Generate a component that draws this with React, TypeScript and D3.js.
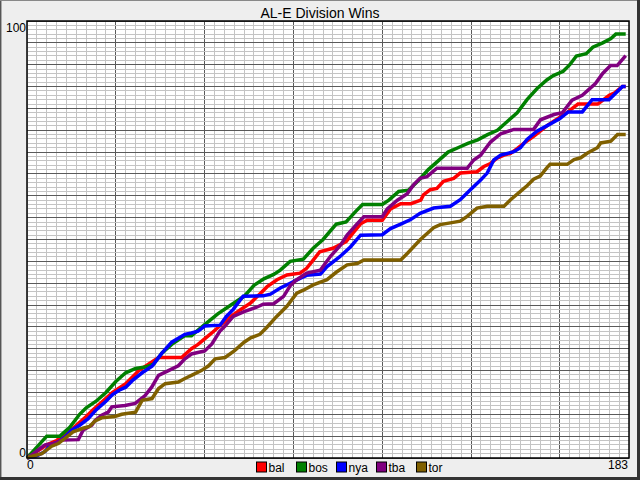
import * as d3 from "d3";

type Pt = [number, number];

// days since season start vs. cumulative wins
const bal: Pt[] = [[0,0],[3,1.5],[6,3],[9,4],[12,5.5],[15,7.5],[18,9.5],[20,11],[23,13],[26,15],[30,17],[34,20],[36,21],[40,23],[47,23],[50,25],[52,26],[56,28.5],[59,30.5],[62,32.4],[65,34],[68,35.5],[71,37.7],[73,39.2],[76,40.8],[79,41.9],[83,42.3],[85,43.4],[87,45.3],[89,47.2],[93,48],[97,49.5],[99,51.4],[101.4,53.6],[103.4,54.4],[108,54.4],[110.5,57],[113.6,58.2],[116.7,58.2],[119.7,59],[120.5,60.2],[122.6,61.4],[124.6,61.7],[126.6,63.3],[129.7,64],[131.7,65.2],[136.8,65.5],[138.9,66.7],[140.9,67.4],[142.9,68.6],[145,69.3],[147,69.7],[149,70.8],[151,72],[154,73.6],[156,74.8],[158,76],[160,77],[162,78],[164,79],[167.5,81],[173.5,81],[177,83],[178.5,83.5],[181,85],[182,85]];
const bos: Pt[] = [[0,0],[3,2.5],[6,5],[10,5],[13,7],[16,10],[18,11.5],[21,13],[24,15],[27,17.5],[30,19.5],[33,20.5],[36,20.8],[38.5,21.5],[41,24],[44,26],[48,28],[50,28],[54,30.5],[58,33],[62,35],[66,37],[69,39.5],[72,41],[75,42],[77,43],[80,45],[84,45.5],[87,48],[90,50],[94,53.5],[97,54],[100,56.5],[102,58],[108,58],[110,59],[113,61],[116,61.3],[119,63.5],[122,66],[125,68],[128,70],[131,71],[134,72],[137,72.8],[140,74],[143,75],[146,77],[149,79],[152,82],[155,84.5],[158,86.5],[160,87.5],[163,88.5],[165,90],[167,92],[170,92.5],[172,94],[175,95],[177.5,96],[179,97],[182,97]];
const nya: Pt[] = [[0,0],[3,0.5],[5.5,1.5],[7,3],[9.5,3.7],[11.6,4.8],[13.6,6.4],[16,7.5],[18.6,9],[21,11],[24,13],[26,14.5],[28,15.5],[30,16.2],[32,17.7],[35,19.5],[38,21],[41,24],[44,26.5],[48,28.3],[50,28.6],[52,29],[54,30.2],[58.7,30.4],[60.6,32.4],[62.7,34],[65.7,37],[71.8,37.1],[74,37.5],[77,38.9],[80,40],[83,41.1],[85,41.8],[89.2,42.1],[91.2,43.8],[95,46],[98.3,48.3],[101.4,51],[108,51.1],[110.5,52.5],[113.6,53.5],[116.5,54.5],[119.5,56],[123.6,57.2],[128.7,57.6],[131.7,59.1],[134.8,61.4],[137.9,63.6],[139.9,65.2],[141.9,68.2],[144,69.3],[148,70.1],[150,71],[152,72.9],[155,74.8],[158,76],[162,77.7],[164.5,79.2],[168.8,79.2],[171.8,82],[176.9,82],[179.4,83.8],[181,85],[182,85]];
const tba: Pt[] = [[0,0],[2,1],[4,2.2],[5.5,3],[8.5,3.4],[10.6,4.1],[15.6,4.2],[17.1,6.4],[19.7,7.5],[20.7,8.6],[22.7,9.8],[24.7,10.5],[25.8,11.7],[29.8,12],[32.9,12.5],[35.9,14.3],[37.9,16.2],[40,18.9],[43,20],[46,21.1],[48,22.7],[50,23.8],[54,24.5],[56.2,26.1],[58.6,29],[60.2,30.2],[62.7,32.4],[66,33.5],[69.8,34.5],[71.8,35.2],[75,35.3],[78,37],[80,39.4],[82,40.8],[85,42.3],[89.2,43],[92.2,46.1],[95.3,48.7],[97.3,51],[100.4,53.6],[102.4,55.2],[108,55.2],[109.5,57],[112.6,59],[115.6,60.5],[117.5,62.5],[119.5,64],[121.6,64.4],[124.6,66.3],[133.8,66.3],[135.8,68.2],[137.9,69.3],[140.9,72.3],[144,74.2],[148,75.2],[154,75.2],[156.1,77.4],[160.2,78.6],[162.7,79],[165.7,81.9],[168.8,83],[172.8,85.7],[175,88],[177.4,89.8],[179.4,89.8],[182,92.1]];
const tor: Pt[] = [[0,0],[1,0.3],[4.5,1],[7.5,2.7],[9.5,3.3],[11.5,4.5],[14,6],[17,6.8],[19,7.2],[20.7,8.5],[22.7,9.2],[26.7,9.5],[28.8,10],[33,10.5],[35,13.2],[38,13.6],[40,15.9],[42,17],[46,17.4],[48,18.2],[50,18.9],[53,20],[55.2,21.1],[57.2,22.7],[60.2,23],[63,24.5],[66,26.5],[68,27.5],[70.8,28.3],[72.8,29.8],[75.9,32.4],[79,34.7],[82,37.7],[84,38.4],[87,39.6],[91.2,40.8],[94,42.5],[97.3,44.2],[100.4,44.5],[102.4,45.3],[113.6,45.3],[115.6,46.8],[119.6,50],[123.6,52.7],[125.6,53.4],[128.7,53.8],[131.7,54.2],[133.8,55.3],[136.8,57.2],[139.9,57.6],[145,57.6],[147,59.1],[150,61],[152,62.3],[154,63.8],[156,64.5],[158,66.4],[159,67.2],[164.2,67.2],[166.3,68.3],[168.3,68.7],[170.4,69.8],[173.4,71],[174.4,72.1],[177.5,72.5],[179.5,74],[182,74]];

const teams = ["bal", "bos", "nya", "tba", "tor"];
const teamData = [bal, bos, nya, tba, tor];
const teamColors = ["#ff0000", "#008000", "#0000ff", "#800080", "#806000"];

const W = 640;
const H = 480;
const font = "'Liberation Sans', Arial, sans-serif";

export default function App() {
  const x = d3.scaleLinear().domain([0, 183]).range([27, 629]);
  const y = d3.scaleLinear().domain([0, 100]).range([458, 21]);
  const line = d3
    .line<Pt>()
    .x((d) => x(d[0]))
    .y((d) => y(d[1]));

  const xMinor = d3.range(0, 184, 3);
  const xMajor = d3.range(27, 184, 27);
  const yMinor = d3.range(0, 101, 1);
  const yMajor = d3.range(0, 101, 5);

  return (
    <svg
      width={W}
      height={H}
      style={{ position: "absolute", left: 0, top: 0 }}
      fontFamily={font}
    >
      <rect width={W} height={H} fill="#eeeeee" />
      <line x1={0.5} y1={0} x2={0.5} y2={H} stroke="#555" />
      <line x1={1.5} y1={0} x2={1.5} y2={H} stroke="#aaa" />
      <line x1={0} y1={0.5} x2={W} y2={0.5} stroke="#888" />
      <line x1={0} y1={H - 1.5} x2={W} y2={H - 1.5} stroke="#333" strokeWidth={3} />
      <line x1={W - 1.5} y1={0} x2={W - 1.5} y2={H} stroke="#333" strokeWidth={3} />

      <text x={320} y={18} textAnchor="middle" fontSize={14}>
        AL-E Division Wins
      </text>

      <rect x={27} y={21} width={602} height={437} fill="#fff" />
      <g shapeRendering="crispEdges">
        {xMinor.map((d) => (
          <line key={"xm" + d} x1={x(d)} x2={x(d)} y1={21} y2={458} stroke="#c4c4c4" />
        ))}
        {xMajor.map((d) => (
          <line key={"xM" + d} x1={x(d)} x2={x(d)} y1={21} y2={458} stroke="#5a5a5a" />
        ))}
        {yMinor.map((d) => (
          <line key={"ym" + d} x1={27} x2={629} y1={y(d)} y2={y(d)} stroke="#c4c4c4" />
        ))}
        {yMajor.map((d) => (
          <line key={"yM" + d} x1={27} x2={629} y1={y(d)} y2={y(d)} stroke="#5a5a5a" />
        ))}
      </g>

      {teamData.map((s, i) => (
        <path
          key={teams[i]}
          d={line(s) ?? ""}
          fill="none"
          stroke={teamColors[i]}
          strokeWidth={3.5}
        />
      ))}

      <rect x={27} y={21} width={602} height={437} fill="none" stroke="#000" strokeWidth={1.5} />

      <text x={26} y={32} textAnchor="end" fontSize={12}>100</text>
      <text x={26} y={457} textAnchor="end" fontSize={12}>0</text>
      <text x={27} y={469} textAnchor="start" fontSize={12}>0</text>
      <text x={628} y={469} textAnchor="end" fontSize={12}>183</text>

      {teams.map((t, i) => (
        <g key={t} transform={`translate(${256 + i * 40},461.5)`}>
          <rect x={0.5} y={0.5} width={10} height={10} fill={teamColors[i]} stroke="#000" />
          <text x={12.5} y={10} fontSize={12}>{t}</text>
        </g>
      ))}
    </svg>
  );
}
